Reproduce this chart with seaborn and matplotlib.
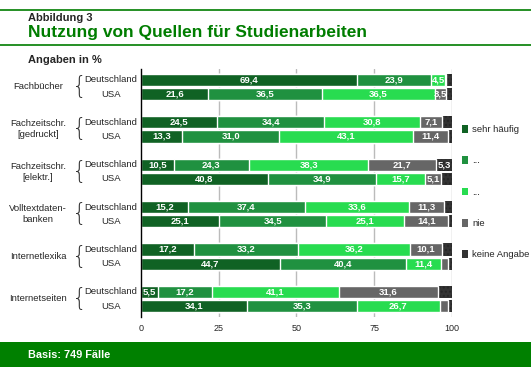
import matplotlib
matplotlib.use("Agg")
import matplotlib.pyplot as plt
import matplotlib.transforms as mtransforms
from matplotlib.patches import Patch, Rectangle
from matplotlib.lines import Line2D
import seaborn as sns
import numpy as np
import pandas as pd

# data (Angaben in %)
categories = ["Fachbücher", "Fachzeitschr.\n[gedruckt]", "Fachzeitschr.\n[elektr.]",
              "Volltextdaten-\nbanken", "Internetlexika", "Internetseiten"]
countries = ["Deutschland", "USA"]
levels = ["sehr häufig", "...", "...", "nie", "keine Angabe"]
sehr_haeufig = [69.4, 21.6, 24.5, 13.3, 10.5, 40.8, 15.2, 25.1, 17.2, 44.7, 5.5, 34.1]
stufe2 = [23.9, 36.5, 34.4, 31.0, 24.3, 34.9, 37.4, 34.5, 33.2, 40.4, 17.2, 35.3]
stufe3 = [4.5, 36.5, 30.8, 43.1, 38.3, 15.7, 33.6, 25.1, 36.2, 11.4, 41.1, 26.7]
nie = [0.4, 3.5, 7.1, 11.4, 21.7, 5.1, 11.3, 14.1, 10.1, 2.2, 31.6, 2.6]
keine_angabe = [1.8, 1.9, 3.2, 1.2, 5.3, 3.5, 2.5, 1.2, 3.3, 1.3, 4.6, 1.3]
x_ticks = [0, 25, 50, 75, 100]

colors = ["#106224", "#209140", "#28dc50", "#666666", "#333333"]
GREEN = "#007d00"
NARROW = ["Liberation Sans Narrow", "Liberation Sans", "DejaVu Sans"]

sns.set_style("white")
plt.rcParams["font.family"] = ["Liberation Sans", "DejaVu Sans"]

# long table, one row per bar
keys, order = [], []
for i, cat in enumerate(categories):
    for c in countries:
        keys.append(f"{i}-{c}")
        order.append(f"{i}-{c}")
    if i < len(categories) - 1:
        order.append(f"{i}-gap")
series = [sehr_haeufig, stufe2, stufe3, nie, keine_angabe]
df = pd.DataFrame({"key": keys})
for j, s in enumerate(series):
    df[f"s{j}"] = s
cum = np.cumsum(np.array(series), axis=0)
for j in range(len(series)):
    df[f"c{j}"] = cum[j]

fig = plt.figure(figsize=(5.31, 3.67), dpi=100)
ax = fig.add_axes([0.2655, 0.1354, 0.5857, 0.6757])

for x in x_ticks[1:]:
    ax.axvline(x, color="#bbbbbb", lw=1, zorder=0)

for j in reversed(range(len(series))):
    sns.barplot(data=df, x=f"c{j}", y="key", order=order, orient="h",
                color=colors[j], saturation=1, width=0.86, ax=ax, zorder=2)
    if j == 4:
        for p in ax.containers[-1]:
            p.set_hatch("....")
            p.set_edgecolor("#262626")
            p.set_linewidth(0)

# value labels (small "keine Angabe" shares stay unlabelled)
pos = {k: order.index(k) for k in keys}
for r, k in enumerate(keys):
    left = 0
    for j in range(len(series)):
        v = series[j][r]
        limit = 5.0 if j == 4 else 3.5
        if v >= limit:
            ax.text(left + v / 2, pos[k], f"{v:.1f}".replace(".", ","),
                    ha="center", va="center", color="white", fontsize=6.8,
                    fontweight="bold", family=NARROW, zorder=5)
        left += v

ax.set_xlim(0, 100)
ax.set_ylim(len(order) - 1 + 0.8, -0.75)
ax.set_xticks(x_ticks)
ax.set_xticklabels([str(t) for t in x_ticks], fontsize=6.5)
ax.tick_params(axis="x", length=0, pad=5)
ax.set_yticks([])
ax.set_xlabel("")
ax.set_ylabel("")
for s in ["top", "right", "bottom"]:
    ax.spines[s].set_visible(False)
ax.spines["left"].set_color("black")
ax.spines["left"].set_linewidth(1)
ax.spines["left"].set_zorder(6)

# row labels, braces and countries
tr = mtransforms.blended_transform_factory(fig.transFigure, ax.transData)
for i, cat in enumerate(categories):
    yd, yu = pos[f"{i}-Deutschland"], pos[f"{i}-USA"]
    ym = (yd + yu) / 2
    ax.text(38 / 531, ym, cat, transform=tr, ha="center", va="center",
            fontsize=6.8, family=NARROW, linespacing=1.3)
    ax.text(80 / 531, ym, "{", transform=tr, ha="center", va="center",
            fontsize=17, fontweight="light", family=["DejaVu Sans"], color="#333333")
    ax.text(111 / 531, yd, "Deutschland", transform=tr, ha="center", va="center",
            fontsize=6.8, family=NARROW)
    ax.text(111 / 531, yu, "USA", transform=tr, ha="center", va="center",
            fontsize=6.8, family=NARROW)

# legend
handles = [Patch(facecolor=c, edgecolor="none") for c in colors]
fig.legend(handles, levels, loc="upper left", bbox_to_anchor=(458 / 531, 1 - 121 / 367),
           frameon=False, handlelength=0.7, handleheight=0.9,
           handletextpad=0.4, labelspacing=2.35, borderaxespad=0,
           prop={"family": NARROW, "size": 6.8})

# header
fig.add_artist(Line2D([0, 1], [1 - 10 / 367] * 2, color=GREEN, lw=1.2))
fig.add_artist(Line2D([0, 1], [1 - 45 / 367] * 2, color=GREEN, lw=1.2))
fig.text(28 / 531, 1 - 18 / 367, "Abbildung 3", fontsize=8, fontweight="bold",
         va="center", family=NARROW)
fig.text(28 / 531, 1 - 33 / 367, "Nutzung von Quellen für Studienarbeiten", fontsize=12.5,
         fontweight="bold", color=GREEN, va="center")
fig.text(28 / 531, 1 - 60 / 367, "Angaben in %", fontsize=8, fontweight="bold",
         va="center", family=NARROW)

# footer
fig.add_artist(Rectangle((0, 0), 1, 25 / 367, transform=fig.transFigure,
                         facecolor="#008000", edgecolor="none"))
fig.text(28 / 531, 12.5 / 367, "Basis: 749 Fälle", fontsize=7.8, fontweight="bold",
         color="white", va="center")

fig.savefig("out.png", dpi=100)
